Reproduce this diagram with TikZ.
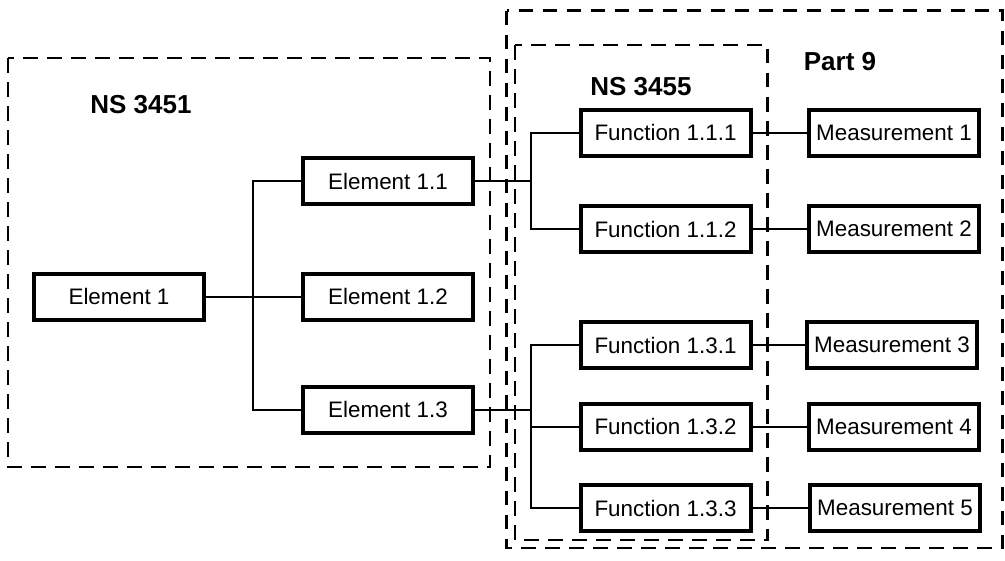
\documentclass[tikz,border=0pt]{standalone}
\usepackage{fontspec}
\setmainfont{Liberation Sans}
\begin{document}
\begin{tikzpicture}[x=0.75pt,y=-0.75pt,
  box/.style={draw,line width=3pt,minimum width=127.5pt,minimum height=34.5pt,inner sep=0pt,font=\fontsize{16.8}{20}\selectfont},
  conn/.style={line width=1.5pt},
  frame/.style={line width=2pt,dash pattern=on 11pt off 7pt},
  title/.style={font=\fontsize{19.5}{23}\selectfont\bfseries,inner sep=0pt}]
\useasboundingbox (0,0) rectangle (1005,560);
% frames
\draw[frame] (8,58) rectangle (490,467);
\draw[frame] (506.6,10.6) rectangle (1002.5,548);
\draw[frame] (515,45) rectangle (767.5,540);
\node[title] (l1) at (141,105) {NS 3451};
\node[title] (l2) at (641,87) {NS 3455};
\node[title] (l3) at (840,62) {Part 9};
% elements
\node[box] (e1) at (119,296.5) {Element 1};
\node[box] (e11) at (388,181) {Element 1.1};
\node[box] (e12) at (388,296.5) {Element 1.2};
\node[box] (e13) at (388,409.5) {Element 1.3};
% functions
\node[box] (f111) at (665.5,132.5) {Function 1.1.1};
\node[box] (f112) at (665.5,229) {Function 1.1.2};
\node[box] (f131) at (665.5,345) {Function 1.3.1};
\node[box] (f132) at (665.5,426.7) {Function 1.3.2};
\node[box] (f133) at (665.5,508) {Function 1.3.3};
% measurements
\node[box] (m1) at (894,132.5) {Measurement 1};
\node[box] (m2) at (894,229) {Measurement 2};
\node[box] (m3) at (892,345) {Measurement 3};
\node[box] (m4) at (894,426.7) {Measurement 4};
\node[box] (m5) at (895,508) {Measurement 5};
\coordinate (et) at (253,0);
\coordinate (ft) at (531,0);
% connectors
\draw[conn] (e1.east) -- (e12.west);
\draw[conn] (e11.west) -- (e11.west -| et) -- (e13.west -| et) -- (e13.west);
\draw[conn] (f111.west) -- (f111.west -| ft) -- (f112.west -| ft) -- (f112.west);
\draw[conn] (e11.east) -- (e11.east -| ft);
\draw[conn] (f131.west) -- (f131.west -| ft) -- (f133.west -| ft) -- (f133.west);
\draw[conn] (f132.west) -- (f132.west -| ft);
\draw[conn] (e13.east) -- (e13.east -| ft);
\draw[conn] (f111.east) -- (m1.west);
\draw[conn] (f112.east) -- (m2.west);
\draw[conn] (f131.east) -- (m3.west);
\draw[conn] (f132.east) -- (m4.west);
\draw[conn] (f133.east) -- (m5.west);
\end{tikzpicture}
\end{document}
